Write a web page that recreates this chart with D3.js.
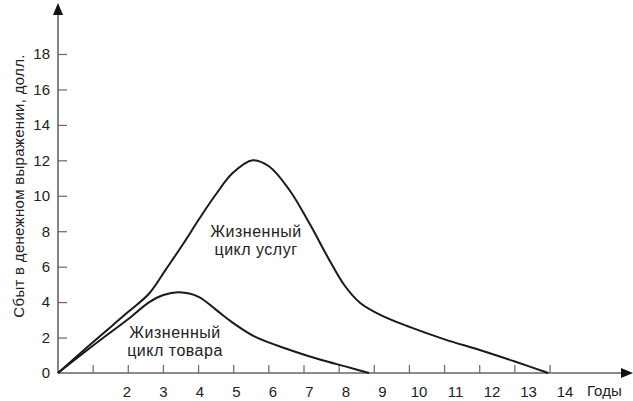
<!DOCTYPE html>
<html>
<head>
<meta charset="utf-8">
<script src="https://cdn.jsdelivr.net/npm/d3@7"></script>
<style>
  body { margin: 0; background: #fff; }
  svg text { font-family: "Liberation Sans", Arial, sans-serif; fill: #222; }
</style>
</head>
<body>
<div id="chart"></div>
<script>
const width = 633;
const height = 401;

// years and sales for the two life cycles
const goodsYears  = [0, 1, 2, 2.6, 3.0, 3.45, 4.0, 4.5, 5.0, 5.6, 6.6, 7.5, 8.2, 8.85];
const goodsSales  = [0, 1.55, 3.05, 4.0, 4.4, 4.55, 4.3, 3.56, 2.8, 2.05, 1.3, 0.73, 0.36, 0];

const serviceYears = [0, 1, 2, 2.6, 3.07, 3.55, 4.02, 4.5, 4.97, 5.54, 6.01, 6.58, 7.15, 7.72, 8.15, 8.6, 9.2, 10, 11, 12, 13, 13.95];
const serviceSales = [0, 1.75, 3.45, 4.5, 5.85, 7.25, 8.7, 10.1, 11.28, 12.0, 11.65, 10.34, 8.46, 6.38, 4.95, 3.95, 3.25, 2.6, 1.9, 1.3, 0.65, 0];

// axis ticks and labels
const xTicks = d3.range(1, 15);
const xLabels = d3.range(2, 15);
const yTicks = d3.range(0, 19, 2);

const yTitle = 'Сбыт в денежном выражении, долл.';
const xTitle = 'Годы';
const goodsLabel = ['Жизненный', 'цикл товара'];
const serviceLabel = ['Жизненный', 'цикл услуг'];

const x = d3.scaleLinear().domain([0, 14]).range([58, 550]);
const y = d3.scaleLinear().domain([0, 18]).range([373, 54]);
// tick labels drift to the right of their ticks in the original print
const xLab = d3.scaleLinear().domain([2, 14]).range([127, 565]);

const svg = d3.select('#chart').append('svg')
  .attr('width', width)
  .attr('height', height);

const axisColor = '#666';

// y axis ticks + labels
const yAxis = svg.append('g')
  .attr('transform', `translate(${x(0)},0)`)
  .call(d3.axisLeft(y).tickValues(yTicks).tickSizeInner(-9).tickSizeOuter(0).tickPadding(8));
yAxis.select('.domain').remove();
yAxis.selectAll('line').attr('stroke', axisColor).attr('stroke-width', 1.2);
yAxis.selectAll('text')
  .style('font-size', '15px')
  .style('font-family', '"Liberation Sans", Arial, sans-serif')
  .attr('fill', '#222');
yAxis.selectAll('.tick').filter(d => d === 0).select('line').remove();

// x axis ticks
svg.append('g').selectAll('line')
  .data(xTicks)
  .join('line')
  .attr('x1', d => x(d)).attr('x2', d => x(d))
  .attr('y1', y(0)).attr('y2', y(0) - 8)
  .attr('stroke', axisColor).attr('stroke-width', 1.2);

svg.append('g').selectAll('text')
  .data(xLabels)
  .join('text')
  .attr('x', d => xLab(d))
  .attr('y', 397)
  .attr('text-anchor', 'middle')
  .style('font-size', '15px')
  .text(d => d);

// axis lines with arrows
svg.append('line')
  .attr('x1', x(0)).attr('x2', x(0))
  .attr('y1', y(0)).attr('y2', 12)
  .attr('stroke', axisColor).attr('stroke-width', 1.6);
svg.append('path')
  .attr('d', `M${x(0)},3 L${x(0) - 5},15 L${x(0) + 5},15 Z`)
  .attr('fill', '#111');

svg.append('line')
  .attr('x1', x(0)).attr('x2', 624)
  .attr('y1', y(0)).attr('y2', y(0))
  .attr('stroke', axisColor).attr('stroke-width', 1.6);
svg.append('path')
  .attr('d', `M633,${y(0)} L621,${y(0) - 5} L621,${y(0) + 5} Z`)
  .attr('fill', '#111');

svg.append('text')
  .attr('x', 587).attr('y', 396)
  .style('font-size', '15px')
  .text(xTitle);

svg.append('text')
  .attr('transform', 'translate(24,186) rotate(-90)')
  .attr('text-anchor', 'middle')
  .style('font-size', '15px')
  .style('letter-spacing', '0.3px')
  .text(yTitle);

// curves
const line = d3.line()
  .x(d => x(d[0]))
  .y(d => y(d[1]))
  .curve(d3.curveCatmullRom.alpha(0.5));

const curves = [
  d3.zip(serviceYears, serviceSales),
  d3.zip(goodsYears, goodsSales)
];

svg.append('g').selectAll('path')
  .data(curves)
  .join('path')
  .attr('d', line)
  .attr('fill', 'none')
  .attr('stroke', '#1a1a1a')
  .attr('stroke-width', 2);

// curve labels
function addLabel(lines, cx, top) {
  const t = svg.append('text')
    .attr('text-anchor', 'middle')
    .style('font-size', '16px')
    .style('letter-spacing', '0.5px');
  lines.forEach((s, i) => {
    t.append('tspan').attr('x', cx).attr('y', top + i * 18).text(s);
  });
}
addLabel(serviceLabel, 256, 237);
addLabel(goodsLabel, 175, 338);
</script>
</body>
</html>
